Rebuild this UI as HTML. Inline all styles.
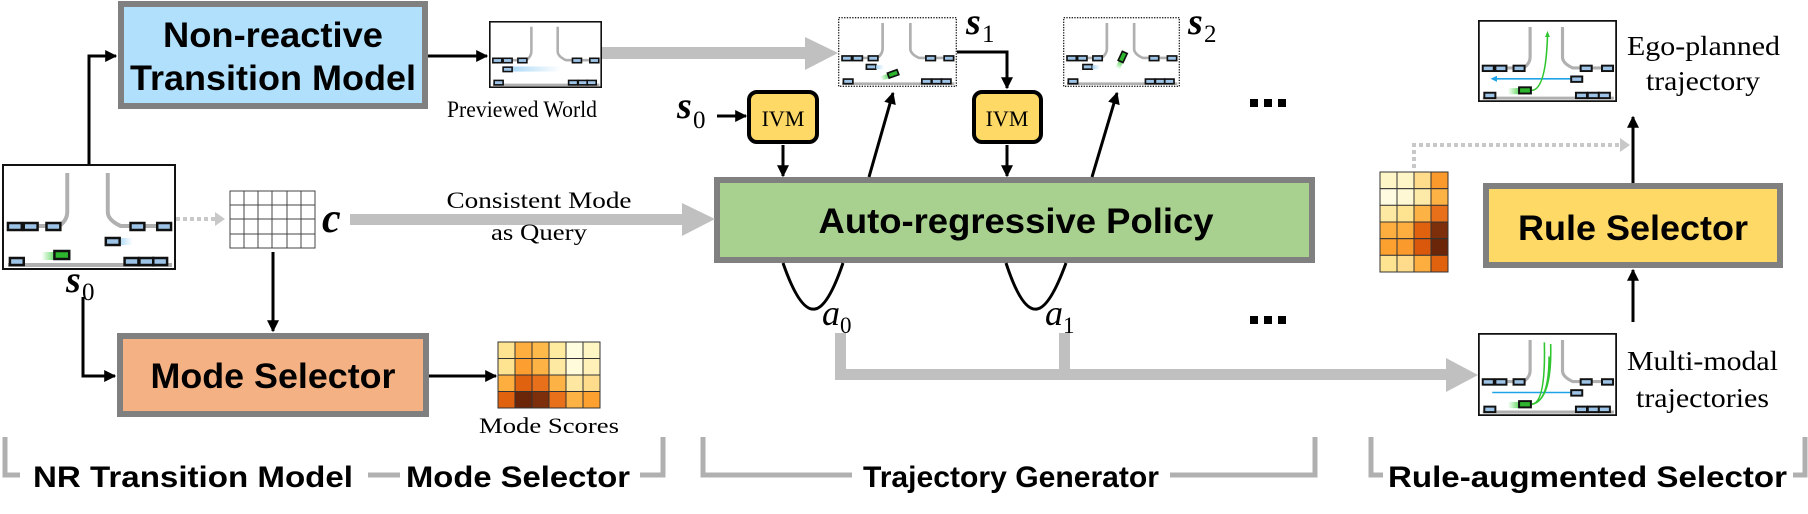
<!DOCTYPE html>
<html><head><meta charset="utf-8"><style>
html,body{margin:0;padding:0;background:#fff;}
svg{display:block;}
.b{font-family:"Liberation Sans",sans-serif;font-weight:bold;}
.s{font-family:"Liberation Serif",serif;}
</style></head><body>
<svg width="1808" height="514" viewBox="0 0 1808 514" xmlns="http://www.w3.org/2000/svg">
<defs>
<marker id="ah" viewBox="0 0 10 10" refX="9" refY="5" markerWidth="4.5" markerHeight="4" orient="auto" markerUnits="strokeWidth"><path d="M0,0 L10,5 L0,10 z" fill="#000"/></marker>
<linearGradient id="gt" x1="0" x2="1"><stop offset="0" stop-color="#3ecf3e" stop-opacity="0"/><stop offset="1" stop-color="#3ecf3e" stop-opacity="0.8"/></linearGradient>
<linearGradient id="bt" x1="0" x2="1"><stop offset="0" stop-color="#9fd3f5" stop-opacity="0.9"/><stop offset="1" stop-color="#9fd3f5" stop-opacity="0"/></linearGradient>
<g id="road">
<path d="M66,9 V48 Q66,56 58,62 H6" fill="none" stroke="#b0b0b0" stroke-width="4"/>
<path d="M107,9 V48 Q107,56 120,62 H172" fill="none" stroke="#b0b0b0" stroke-width="4"/>
<line x1="6" y1="101" x2="172" y2="101" stroke="#b0b0b0" stroke-width="4"/>
</g>
<g id="car"><rect x="0" y="0" width="14" height="7" fill="#9dc3e6" stroke="#111" stroke-width="2.5"/></g>
<g id="cars">
<use href="#car" x="6" y="59"/><use href="#car" x="22" y="59"/><use href="#car" x="45" y="59"/>
<use href="#car" x="130" y="59"/><use href="#car" x="157" y="59"/>
<use href="#car" x="8" y="94"/><use href="#car" x="124" y="94"/><use href="#car" x="139" y="94"/><use href="#car" x="153" y="94"/>
</g>
</defs>

<!-- s0 scene -->
<svg x="2" y="164" width="174" height="106" viewBox="0 0 176 106" preserveAspectRatio="none">
<rect x="1" y="1" width="174" height="104" fill="#fff" stroke="#111" stroke-width="2"/>
<use href="#road"/><use href="#cars"/>
<rect x="118" y="74" width="14" height="7" fill="url(#bt)"/><use href="#car" x="105" y="74"/>
<rect x="40" y="88" width="14" height="8" fill="url(#gt)"/>
<rect x="53" y="87" width="15" height="8" fill="#2db52d" stroke="#111" stroke-width="2.5"/>
</svg>
<text x="66" y="292" font-family="Liberation Serif, serif" font-size="38" font-weight="bold" font-style="italic">s</text><text x="82" y="300" font-family="Liberation Serif, serif" font-size="25">0</text>

<!-- previewed scene -->
<svg x="489" y="21" width="113" height="67" viewBox="0 0 176 106" preserveAspectRatio="none">
<rect x="1" y="1" width="174" height="104" fill="#fff" stroke="#111" stroke-width="3"/>
<use href="#road"/><use href="#cars"/>
<rect x="32" y="72" width="80" height="8" fill="url(#bt)"/><use href="#car" x="22" y="73"/>
</svg>
<text x="447" y="117" font-family="Liberation Serif, serif" font-size="23" textLength="150" lengthAdjust="spacingAndGlyphs">Previewed World</text>

<!-- s1 scene -->
<svg x="838" y="17" width="119" height="70" viewBox="0 0 176 106" preserveAspectRatio="none">
<rect x="1" y="1" width="174" height="104" fill="#fff" stroke="#222" stroke-width="2" stroke-dasharray="2 2"/>
<use href="#road"/><use href="#cars"/>
<use href="#car" x="42" y="72"/><rect x="56" y="73" width="12" height="6" fill="url(#bt)"/>
<g transform="rotate(-20 82 86)"><rect x="62" y="83" width="12" height="7" fill="url(#gt)"/><rect x="74" y="82" width="15" height="8" fill="#2db52d" stroke="#111" stroke-width="2.5"/></g>
</svg>
<text x="966" y="34" font-family="Liberation Serif, serif" font-size="38" font-weight="bold" font-style="italic">s</text><text x="982" y="42" font-family="Liberation Serif, serif" font-size="25">1</text>

<!-- s2 scene -->
<svg x="1063" y="17" width="117" height="70" viewBox="0 0 176 106" preserveAspectRatio="none">
<rect x="1" y="1" width="174" height="104" fill="#fff" stroke="#222" stroke-width="2" stroke-dasharray="2 2"/>
<use href="#road"/><use href="#cars"/>
<use href="#car" x="30" y="72"/><rect x="44" y="73" width="12" height="6" fill="url(#bt)"/>
<g transform="rotate(-65 90 60)"><rect x="70" y="57" width="12" height="7" fill="url(#gt)"/><rect x="82" y="56" width="15" height="8" fill="#2db52d" stroke="#111" stroke-width="2.5"/></g>
</svg>
<text x="1188" y="34" font-family="Liberation Serif, serif" font-size="38" font-weight="bold" font-style="italic">s</text><text x="1204" y="42" font-family="Liberation Serif, serif" font-size="25">2</text>

<!-- ego planned -->
<svg x="1478" y="20" width="139" height="82" viewBox="0 0 176 106" preserveAspectRatio="none">
<rect x="1" y="1" width="174" height="104" fill="#fff" stroke="#111" stroke-width="2.5"/>
<use href="#road"/><use href="#cars"/>
<line x1="118" y1="76" x2="18" y2="76" stroke="#1fa3e8" stroke-width="2"/>
<path d="M24,72 L16,76 L24,80 z" fill="#1fa3e8"/>
<use href="#car" x="118" y="73"/>
<rect x="38" y="88" width="14" height="8" fill="url(#gt)"/>
<path d="M68,91 Q86,90 88,20" fill="none" stroke="#2fc52f" stroke-width="2"/>
<path d="M85,22 L88,14 L91,22 z" fill="#2fc52f"/>
<rect x="52" y="87" width="15" height="8" fill="#2db52d" stroke="#111" stroke-width="2.5"/>
</svg>
<text x="1627" y="55" font-family="Liberation Serif, serif" font-size="27" textLength="153" lengthAdjust="spacingAndGlyphs">Ego-planned</text>
<text x="1646" y="90" font-family="Liberation Serif, serif" font-size="27" textLength="114" lengthAdjust="spacingAndGlyphs">trajectory</text>

<!-- multi-modal -->
<svg x="1478" y="333" width="139" height="83" viewBox="0 0 176 106" preserveAspectRatio="none">
<rect x="1" y="1" width="174" height="104" fill="#fff" stroke="#111" stroke-width="2.5"/>
<use href="#road"/><use href="#cars"/>
<line x1="118" y1="76" x2="18" y2="76" stroke="#1fa3e8" stroke-width="2"/>
<use href="#car" x="118" y="73"/>
<rect x="38" y="88" width="14" height="8" fill="url(#gt)"/>
<path d="M68,91 Q86,90 84,12 M68,91 Q90,88 90,30 M68,91 Q94,86 92,14" fill="none" stroke="#2fc52f" stroke-width="2"/>
<rect x="52" y="87" width="15" height="8" fill="#2db52d" stroke="#111" stroke-width="2.5"/>
</svg>
<text x="1627" y="370" font-family="Liberation Serif, serif" font-size="27" textLength="151" lengthAdjust="spacingAndGlyphs">Multi-modal</text>
<text x="1636" y="407" font-family="Liberation Serif, serif" font-size="27" textLength="133" lengthAdjust="spacingAndGlyphs">trajectories</text>

<!-- NR box -->
<rect x="121" y="4" width="304" height="102" fill="#b0e0fb" stroke="#808080" stroke-width="6"/>
<text x="273" y="47" class="b" font-size="35" text-anchor="middle" textLength="220" lengthAdjust="spacingAndGlyphs">Non-reactive</text>
<text x="273" y="90" class="b" font-size="35" text-anchor="middle" textLength="286" lengthAdjust="spacingAndGlyphs">Transition Model</text>

<!-- Mode selector -->
<rect x="120" y="336" width="306" height="78" fill="#f4b183" stroke="#808080" stroke-width="6"/>
<text x="273" y="388" class="b" font-size="35" text-anchor="middle" textLength="245" lengthAdjust="spacingAndGlyphs">Mode Selector</text>

<!-- policy -->
<rect x="717" y="180" width="595" height="80" fill="#a8d08e" stroke="#808080" stroke-width="6"/>
<text x="1016" y="233" class="b" font-size="35" text-anchor="middle" textLength="395" lengthAdjust="spacingAndGlyphs">Auto-regressive Policy</text>

<!-- Rule selector -->
<rect x="1486" y="186" width="294" height="79" fill="#fed966" stroke="#808080" stroke-width="6"/>
<text x="1633" y="240" class="b" font-size="35" text-anchor="middle" textLength="230" lengthAdjust="spacingAndGlyphs">Rule Selector</text>

<!-- IVM -->
<rect x="749" y="92" width="68" height="50" rx="8" fill="#fed966" stroke="#000" stroke-width="4"/>
<text x="783" y="126" font-family="Liberation Serif, serif" font-size="22" text-anchor="middle">IVM</text>
<rect x="974" y="92" width="67" height="50" rx="8" fill="#fed966" stroke="#000" stroke-width="4"/>
<text x="1007" y="126" font-family="Liberation Serif, serif" font-size="22" text-anchor="middle">IVM</text>

<!-- black arrows -->
<g stroke="#000" stroke-width="3" fill="none">
<path d="M89,164 V56 H116" marker-end="url(#ah)"/>
<path d="M428,56 H487" marker-end="url(#ah)"/>
<path d="M83,297 V376 H115" marker-end="url(#ah)"/>
<path d="M273,252 V331" marker-end="url(#ah)"/>
<path d="M429,376 H496" marker-end="url(#ah)"/>
<path d="M717,116 H746" marker-end="url(#ah)"/>
<path d="M783,145 V176" marker-end="url(#ah)"/>
<path d="M869,177 L893,93" marker-end="url(#ah)"/>
<path d="M957,52 H1007 V88" marker-end="url(#ah)"/>
<path d="M1007,145 V176" marker-end="url(#ah)"/>
<path d="M1092,177 L1117,93" marker-end="url(#ah)"/>
<path d="M1633,322 V270" marker-end="url(#ah)"/>
<path d="M1633,183 V117" marker-end="url(#ah)"/>
<path d="M783,263 Q800,312 815,309 Q828,307 843,263"/>
<path d="M1006,263 Q1022,312 1037,309 Q1050,307 1066,263"/>
</g>
<text x="677" y="118" font-family="Liberation Serif, serif" font-size="38" font-weight="bold" font-style="italic">s</text><text x="693" y="128" font-family="Liberation Serif, serif" font-size="25">0</text>
<text x="822" y="325" font-family="Liberation Serif, serif" font-size="36" font-style="italic">a</text><text x="840" y="333" font-family="Liberation Serif, serif" font-size="23">0</text>
<text x="1045" y="325" font-family="Liberation Serif, serif" font-size="36" font-style="italic">a</text><text x="1063" y="333" font-family="Liberation Serif, serif" font-size="23">1</text>

<!-- gray thick arrows -->
<g fill="#c0c0c0">
<rect x="602" y="47" width="205" height="12"/><path d="M805,37 L838,53 L805,70 z"/>
<rect x="350" y="214" width="334" height="11"/><path d="M682,203 L715,219 L682,236 z"/>
<rect x="835" y="333" width="11" height="47"/><rect x="1059" y="333" width="11" height="47"/>
<rect x="835" y="369" width="613" height="11"/><path d="M1446,358 L1478,375 L1446,392 z"/>
</g>
<text x="539" y="208" font-family="Liberation Serif, serif" font-size="23" text-anchor="middle" textLength="185" lengthAdjust="spacingAndGlyphs">Consistent Mode</text>
<text x="539" y="240" font-family="Liberation Serif, serif" font-size="23" text-anchor="middle" textLength="96" lengthAdjust="spacingAndGlyphs">as Query</text>

<!-- dotted -->
<g stroke="#c8c8c8" stroke-width="4" fill="none" stroke-dasharray="4 3">
<path d="M176,219 H216"/>
<path d="M1414,168 V145 H1620"/>
</g>
<path d="M215,212 L225,219 L215,226 z" fill="#c8c8c8"/>
<path d="M1620,138 L1630,145 L1620,152 z" fill="#c8c8c8"/>

<!-- c grid -->
<g stroke="#444" stroke-width="1" fill="#fff">
<rect x="230" y="191" width="85" height="57"/>
<path d="M244,191V248M258,191V248M272,191V248M287,191V248M301,191V248M230,205H315M230,219H315M230,234H315" fill="none"/>
</g>
<text x="322" y="232" font-family="Liberation Serif, serif" font-size="42" font-weight="bold" font-style="italic">c</text>

<!-- mode scores grid 6x4 -->
<g stroke="#333" stroke-width="1">
<rect x="498" y="342" width="17" height="16.5" fill="#fee391"/><rect x="515" y="342" width="17" height="16.5" fill="#fdae3f"/><rect x="532" y="342" width="17" height="16.5" fill="#fdb94a"/><rect x="549" y="342" width="17" height="16.5" fill="#feeba0"/><rect x="566" y="342" width="17" height="16.5" fill="#fffde0"/><rect x="583" y="342" width="17" height="16.5" fill="#fff6c4"/>
<rect x="498" y="358.5" width="17" height="16.5" fill="#fee391"/><rect x="515" y="358.5" width="17" height="16.5" fill="#fd9f30"/><rect x="532" y="358.5" width="17" height="16.5" fill="#fdb245"/><rect x="549" y="358.5" width="17" height="16.5" fill="#fee9a3"/><rect x="566" y="358.5" width="17" height="16.5" fill="#fffbdb"/><rect x="583" y="358.5" width="17" height="16.5" fill="#fff1b8"/>
<rect x="498" y="375" width="17" height="16.5" fill="#fdae3f"/><rect x="515" y="375" width="17" height="16.5" fill="#e0620f"/><rect x="532" y="375" width="17" height="16.5" fill="#e8701a"/><rect x="549" y="375" width="17" height="16.5" fill="#fdb245"/><rect x="566" y="375" width="17" height="16.5" fill="#fee7a0"/><rect x="583" y="375" width="17" height="16.5" fill="#fedc8c"/>
<rect x="498" y="391.5" width="17" height="16.5" fill="#e0620f"/><rect x="515" y="391.5" width="17" height="16.5" fill="#6b2508"/><rect x="532" y="391.5" width="17" height="16.5" fill="#7d2e0a"/><rect x="549" y="391.5" width="17" height="16.5" fill="#e8701a"/><rect x="566" y="391.5" width="17" height="16.5" fill="#fdb245"/><rect x="583" y="391.5" width="17" height="16.5" fill="#fca030"/>
</g>
<text x="549" y="433" font-family="Liberation Serif, serif" font-size="22" text-anchor="middle" textLength="140" lengthAdjust="spacingAndGlyphs">Mode Scores</text>

<!-- rule grid 4x6 -->
<g stroke="#333" stroke-width="1">
<rect x="1380" y="172" width="17" height="16.7" fill="#fff6c8"/><rect x="1397" y="172" width="17" height="16.7" fill="#fff6c8"/><rect x="1414" y="172" width="17" height="16.7" fill="#fedc8c"/><rect x="1431" y="172" width="17" height="16.7" fill="#fb9a2c"/>
<rect x="1380" y="188.7" width="17" height="16.7" fill="#fffbe0"/><rect x="1397" y="188.7" width="17" height="16.7" fill="#fff8d4"/><rect x="1414" y="188.7" width="17" height="16.7" fill="#feeaa8"/><rect x="1431" y="188.7" width="17" height="16.7" fill="#fdb245"/>
<rect x="1380" y="205.3" width="17" height="16.7" fill="#fee9a3"/><rect x="1397" y="205.3" width="17" height="16.7" fill="#fee391"/><rect x="1414" y="205.3" width="17" height="16.7" fill="#fdb245"/><rect x="1431" y="205.3" width="17" height="16.7" fill="#e8701a"/>
<rect x="1380" y="222" width="17" height="16.7" fill="#fdae3f"/><rect x="1397" y="222" width="17" height="16.7" fill="#fdae3f"/><rect x="1414" y="222" width="17" height="16.7" fill="#e0620f"/><rect x="1431" y="222" width="17" height="16.7" fill="#7d2e0a"/>
<rect x="1380" y="238.7" width="17" height="16.7" fill="#fca030"/><rect x="1397" y="238.7" width="17" height="16.7" fill="#fb9a2c"/><rect x="1414" y="238.7" width="17" height="16.7" fill="#d9580c"/><rect x="1431" y="238.7" width="17" height="16.7" fill="#6b2508"/>
<rect x="1380" y="255.3" width="17" height="16.7" fill="#fee391"/><rect x="1397" y="255.3" width="17" height="16.7" fill="#fedc8c"/><rect x="1414" y="255.3" width="17" height="16.7" fill="#fdae3f"/><rect x="1431" y="255.3" width="17" height="16.7" fill="#e0620f"/>
</g>

<!-- ellipses -->
<g fill="#000">
<rect x="1250" y="99" width="8" height="8"/><rect x="1264" y="99" width="8" height="8"/><rect x="1278" y="99" width="8" height="8"/>
<rect x="1250" y="316" width="8" height="8"/><rect x="1264" y="316" width="8" height="8"/><rect x="1278" y="316" width="8" height="8"/>
</g>

<!-- bottom brackets -->
<g stroke="#b0b0b0" stroke-width="5" fill="none">
<path d="M5,437 V475 H20"/>
<path d="M368,475 H400"/>
<path d="M640,475 H663 V437"/>
<path d="M703,437 V475 H852"/>
<path d="M1170,475 H1315 V437"/>
<path d="M1371,437 V475 H1383"/>
<path d="M1793,475 H1805 V437"/>
</g>
<text x="33" y="487" class="b" font-size="30" textLength="320" lengthAdjust="spacingAndGlyphs">NR Transition Model</text>
<text x="406" y="487" class="b" font-size="30" textLength="224" lengthAdjust="spacingAndGlyphs">Mode Selector</text>
<text x="863" y="487" class="b" font-size="30" textLength="296" lengthAdjust="spacingAndGlyphs">Trajectory Generator</text>
<text x="1388" y="487" class="b" font-size="30" textLength="399" lengthAdjust="spacingAndGlyphs">Rule-augmented Selector</text>
</svg>
</body></html>
